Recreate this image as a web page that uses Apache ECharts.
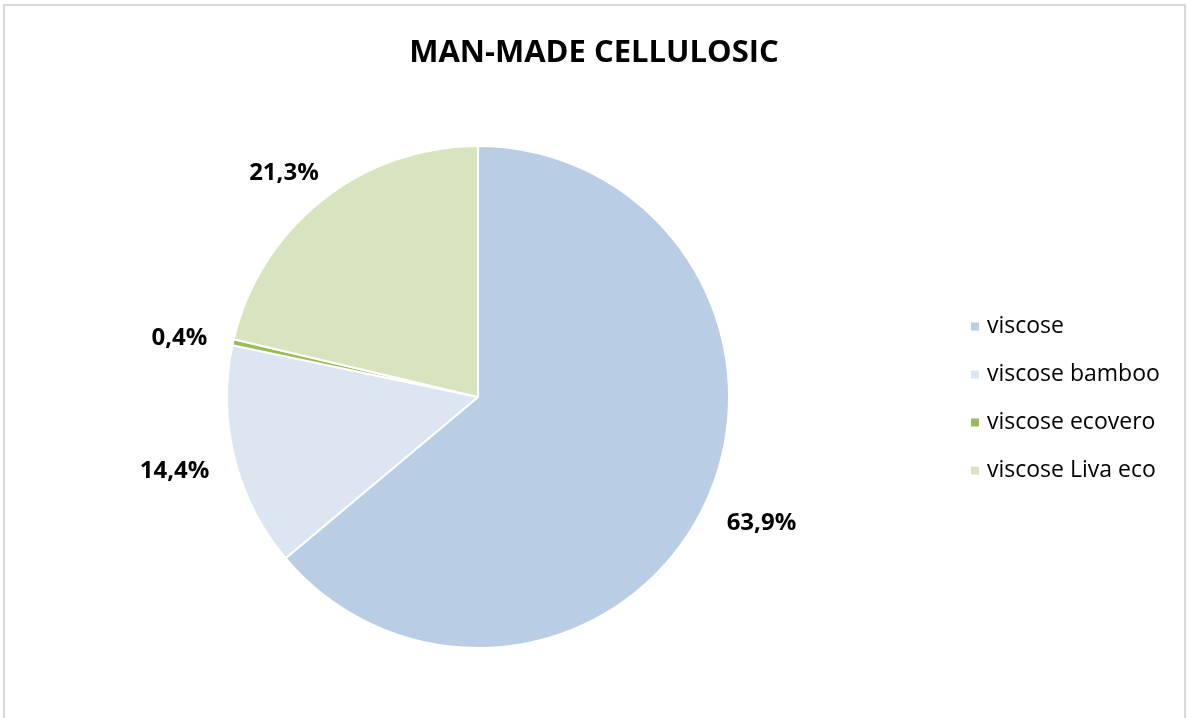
<!DOCTYPE html>
<html>
<head>
<meta charset="utf-8">
<script src="https://cdn.jsdelivr.net/npm/echarts@6/dist/echarts.min.js"></script>
<style>
  html, body { margin: 0; padding: 0; background: #fff; }
  #main { width: 1188px; height: 718px; }
</style>
</head>
<body>
<div id="main"></div>
<script>
// 数据
var titleText = 'MAN-MADE CELLULOSIC';
var nameList = ['viscose', 'viscose bamboo', 'viscose ecovero', 'viscose Liva eco'];
var valueList = [63.9, 14.4, 0.4, 21.3];
var colorList = ['#b9cde5', '#dce6f2', '#9bbb59', '#d7e4bd'];

var seriesData = [];
for (var i = 0; i < nameList.length; i++) {
    seriesData.push({ name: nameList[i], value: valueList[i] });
}

var cx = 478, cy = 397, r = 251;
var total = valueList.reduce(function (a, b) { return a + b; }, 0);

// 标签放在扇区外侧（类似 Excel 的"数据标签外"）
function outsideLabel(params) {
    var before = 0;
    for (var k = 0; k < params.dataIndex; k++) before += valueList[k];
    var mid = (before + valueList[params.dataIndex] / 2) / total * Math.PI * 2;
    var ux = Math.sin(mid), uy = -Math.cos(mid);
    var w = params.labelRect.width, h = params.labelRect.height;
    var d = r + 27;
    return {
        x: cx + d * ux + w / 2 * ux,
        y: cy + d * uy + h / 2 * uy + 4,
        align: 'center',
        verticalAlign: 'middle'
    };
}

var myChart = echarts.init(document.getElementById('main'), null, { renderer: 'canvas' });
myChart.setOption({
    animation: false,
    color: colorList,
    title: {
        text: titleText,
        left: 'center',
        top: 33,
        textStyle: {
            fontFamily: 'Open Sans',
            fontWeight: 'bold',
            fontSize: 31,
            color: '#000'
        }
    },
    graphic: [{
        type: 'rect',
        shape: { x: 4, y: 5, width: 1181, height: 730 },
        style: { fill: 'none', stroke: '#d9d9d9', lineWidth: 2 },
        silent: true
    }],
    legend: {
        orient: 'vertical',
        left: 964,
        top: 310,
        itemWidth: 10,
        itemHeight: 10,
        itemGap: 25,
        icon: 'rect',
        data: nameList,
        textStyle: {
            fontFamily: 'Open Sans',
            fontSize: 23,
            color: '#000',
            padding: [0, 0, 0, 2]
        }
    },
    series: [{
        name: '名称',
        type: 'pie',
        center: [cx, cy],
        radius: r,
        startAngle: 90,
        clockwise: true,
        data: seriesData,
        itemStyle: { borderColor: '#fff', borderWidth: 2 },
        label: {
            show: true,
            position: 'outside',
            formatter: function (p) { return p.value.toFixed(1).replace('.', ',') + '%'; },
            fontFamily: 'Open Sans',
            fontWeight: 'bold',
            fontSize: 24,
            color: '#000'
        },
        labelLine: { show: false },
        labelLayout: outsideLabel
    }]
});
</script>
</body>
</html>
